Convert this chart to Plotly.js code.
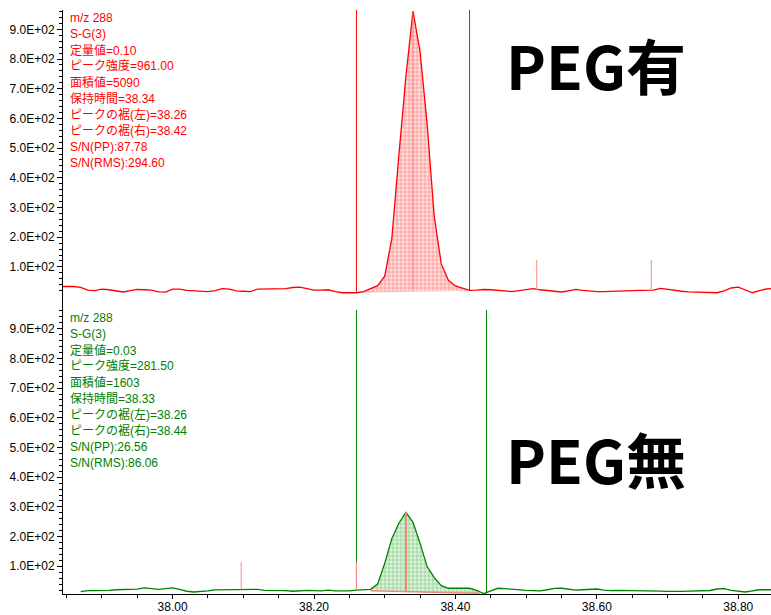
<!DOCTYPE html>
<html><head><meta charset="utf-8">
<script src="https://cdn.plot.ly/plotly-3.0.1.min.js"></script>
<style>html,body{margin:0;padding:0;background:#fff}#chart{width:771px;height:615px}</style>
</head><body><div id="chart"></div>
<script>
// ---- data ----
const rtTop = [37.84,37.85,37.86,37.87,37.88,37.89,37.90,37.91,37.92,37.93,37.94,37.95,37.96,37.97,37.98,37.99,
  38.00,38.01,38.02,38.03,38.04,38.05,38.06,38.07,38.08,38.09,38.10,38.11,38.12,38.13,38.14,38.15,38.16,38.17,38.18,38.19,
  38.20,38.21,38.22,38.23,38.24,38.25,38.26,38.27,38.28,38.29,38.30,38.31,38.32,38.33,38.34,38.35,38.36,38.37,38.38,38.39,
  38.40,38.41,38.42,38.43,38.44,38.45,38.46,38.47,38.48,38.49,38.50,38.51,38.52,38.53,38.54,38.55,38.56,38.57,38.58,38.59,
  38.60,38.61,38.62,38.63,38.64,38.65,38.66,38.67,38.68,38.69,38.70,38.71,38.72,38.73,38.74,38.75,38.76,38.77,38.78,38.79,
  38.80,38.81,38.82,38.83,38.84,38.85];
const intTop = [34,34,34,31,22,20,25,23,19,15.5,20.5,24,23,22,16,15,
  25,25,21,20,17,16.5,20,27,25,19.5,18,17,25,25.6,24.6,24.6,27,30.6,32,27,
  22,22,23,16.5,13,13,13,16.5,25.6,37,69,194,475,742,961,824,580,270,110,55,
  36,28,21,22,24,23,20.5,18,17,20.5,24.6,27,23,20,18,15.5,19.5,24,21,18,
  16.5,16.5,16.5,16.5,19,20,20,20,22,27.6,24,20.5,18,16,15,14,14,13,19,29,
  32,22,13,20.5,25.6,28];

const rtBot = [37.87,37.88,37.89,37.90,37.91,37.92,37.93,37.94,37.95,37.96,37.97,37.98,37.99,
  38.00,38.01,38.02,38.03,38.04,38.05,38.06,38.07,38.08,38.09,38.10,38.11,38.12,38.13,38.14,38.15,38.16,38.17,38.18,38.19,
  38.20,38.21,38.22,38.23,38.24,38.25,38.26,38.27,38.28,38.29,38.30,38.31,38.32,38.33,38.34,38.35,38.36,38.37,38.38,38.39,
  38.40,38.41,38.42,38.43,38.44,38.45,38.46,38.47,38.48,38.49,38.50,38.51,38.52,38.53,38.54,38.55,38.56,38.57,38.58,38.59,
  38.60,38.61,38.62,38.63,38.64,38.65,38.66,38.67,38.68,38.69,38.70,38.71,38.72,38.73,38.74,38.75,38.76,38.77,38.78,38.79,
  38.80,38.81,38.82,38.83,38.84,38.85];
const intBot = [14.5,18,18,18,19,21,21,21,23,27,25,22,25,
  27,22,16,13.5,14,17,20.5,21,21,22,23,24,22.5,19,18.5,20,18,16,18,19,
  18,17,20,17,17,17,20,21.5,22.5,40,110,193,245,281.5,248,177,99,62,35,26,
  26,26,26,19,8,17,26,24.5,22,20.5,19,18,17,21,25.6,26,22,19.5,21,22,
  23.5,20,18,19,19,19,19,18.5,17.5,16.5,15.5,14.5,15.5,16.5,17,17,18.5,23.5,25,19,
  15,13.5,17.5,21,21,21];

// peak integration (start, end) and baseline values at those ends
const topPeakRange = [38.26, 38.42];
const topBaseline = [13, 20];
const botPeakRange = [38.28, 38.434];
const botBaseline = [18, 9];
// peak boundary markers (retention time, level where the line meets the trace)
const topBoundRT = [38.26, 38.42];
const topBoundBase = [13, 20];
const botBoundRT = [38.26, 38.444];
const botBoundBase = [20, 7];
// small pink markers
const topMarkRT = [38.515, 38.677];
const topMarkBase = [22, 21];
const topMarkTop = 123;
const botMarkRT = [38.097, 38.26];
const botMarkBase = [22, 20];
const botMarkTop = 114;
// apex lines
const topApex = {rt: 38.34, base: 22, top: 961};
const botApex = {rt: 38.33, base: 13, top: 281.5};

const yTickVals = [100,200,300,400,500,600,700,800,900];
const yTickText = ['1.0E+02','2.0E+02','3.0E+02','4.0E+02','5.0E+02','6.0E+02','7.0E+02','8.0E+02','9.0E+02'];
const xTickVals = [38.0,38.2,38.4,38.6,38.8];
const xTickText = ['38.00','38.20','38.40','38.60','38.80'];

const infoTop = ['m/z 288','S-G(3)','定量値=0.10','ピーク強度=961.00','面積値=5090','保持時間=38.34','ピークの裾(左)=38.26','ピークの裾(右)=38.42','S/N(PP):87.78','S/N(RMS):294.60'];
const infoBot = ['m/z 288','S-G(3)','定量値=0.03','ピーク強度=281.50','面積値=1603','保持時間=38.33','ピークの裾(左)=38.26','ピークの裾(右)=38.44','S/N(PP):26.56','S/N(RMS):86.06'];
const labelTop = 'PEG有';
const labelBot = 'PEG無';

// ---- build ----
const RED = '#ff0000', GREEN = '#008000', PINK = '#ff8c8c';
const xr = [37.845, 38.8463];
const topYR = [-45.1, 965];
const botYR = [6.7, 962.9];

function peakPoly(rt, ys, range, base) {
  const px = [], py = [];
  rt.forEach((t, i) => { if (t >= range[0] - 1e-9 && t <= range[1] + 1e-9) { px.push(t); py.push(ys[i]); } });
  px.push(range[1], range[0]); py.push(base[1], base[0]);
  return {x: px, y: py};
}
const pt = peakPoly(rtTop, intTop, topPeakRange, topBaseline);
const pb = peakPoly(rtBot, intBot, botPeakRange, botBaseline);

const traces = [
  {x: pt.x, y: pt.y, xaxis: 'x', yaxis: 'y', mode: 'lines', fill: 'toself', line: {width: 0},
   fillcolor: 'rgba(255,150,150,0.5)',
   fillpattern: {shape: '+', size: 4, solidity: 0.3, fgcolor: 'rgba(255,80,80,0.6)', bgcolor: 'rgba(255,210,210,0.8)'},
   hoverinfo: 'skip'},
  {x: rtTop, y: intTop, xaxis: 'x', yaxis: 'y', mode: 'lines', line: {color: RED, width: 1.3}},
  {x: pb.x, y: pb.y, xaxis: 'x2', yaxis: 'y2', mode: 'lines', fill: 'toself', line: {width: 0},
   fillcolor: 'rgba(170,220,170,0.45)',
   fillpattern: {shape: '+', size: 4, solidity: 0.3, fgcolor: 'rgba(60,170,60,0.55)', bgcolor: 'rgba(210,238,210,0.8)'},
   hoverinfo: 'skip'},
  {x: rtBot, y: intBot, xaxis: 'x2', yaxis: 'y2', mode: 'lines', line: {color: GREEN, width: 1.3}}
];

const shapes = [];
topBoundRT.forEach((t, i) => shapes.push({type: 'line', xref: 'x', yref: 'y', x0: t, x1: t, y0: topBoundBase[i], y1: topYR[1], line: {color: RED, width: 1}}));
botBoundRT.forEach((t, i) => shapes.push({type: 'line', xref: 'x2', yref: 'y2', x0: t, x1: t, y0: botBoundBase[i], y1: botYR[1], line: {color: GREEN, width: 1}}));
topMarkRT.forEach((t, i) => shapes.push({type: 'line', xref: 'x', yref: 'y', x0: t, x1: t, y0: topMarkBase[i], y1: topMarkTop, line: {color: PINK, width: 1}}));
botMarkRT.forEach((t, i) => shapes.push({type: 'line', xref: 'x2', yref: 'y2', x0: t, x1: t, y0: botMarkBase[i], y1: botMarkTop, line: {color: PINK, width: 1}}));
shapes.push({type: 'line', xref: 'x', yref: 'y', x0: topApex.rt, x1: topApex.rt, y0: topApex.base, y1: topApex.top, line: {color: 'rgba(255,120,120,0.35)', width: 2.5}});
shapes.push({type: 'line', xref: 'x2', yref: 'y2', x0: botApex.rt, x1: botApex.rt, y0: botApex.base, y1: botApex.top, line: {color: '#f08878', width: 2}});
shapes.push({type: 'line', xref: 'x2', yref: 'y2', x0: botPeakRange[0], x1: botPeakRange[1], y0: botBaseline[0], y1: botBaseline[1], line: {color: '#f08878', width: 1.5}});

// annotations (plot area: y pixel 0..594)
const H = 594;
const ann = [];
const infoFont = {family: 'Liberation Sans, Arial, Noto Sans CJK JP', size: 12};
infoTop.forEach((s, i) => ann.push({text: s, xref: 'paper', yref: 'paper', x: 5 / 708, y: (H - (18.3 + 16.05 * i)) / H,
  xanchor: 'left', yanchor: 'middle', showarrow: false, font: Object.assign({color: RED}, infoFont)}));
infoBot.forEach((s, i) => ann.push({text: s, xref: 'paper', yref: 'paper', x: 5 / 708, y: (H - (318.3 + 16.05 * i)) / H,
  xanchor: 'left', yanchor: 'middle', showarrow: false, font: Object.assign({color: GREEN}, infoFont)}));
ann.push({text: '<b>' + labelTop + '</b>', xref: 'paper', yref: 'paper', x: (596 - 63) / 708, y: (H - 64) / H,
  xanchor: 'center', yanchor: 'middle', showarrow: false, font: {family: 'Noto Sans CJK JP', size: 60, color: '#000'}});
ann.push({text: '<b>' + labelBot + '</b>', xref: 'paper', yref: 'paper', x: (596 - 63) / 708, y: (H - 458) / H,
  xanchor: 'center', yanchor: 'middle', showarrow: false, font: {family: 'Noto Sans CJK JP', size: 60, color: '#000'}});

const minorY = [];
for (let v = 20; v <= 960; v += 20) if (v % 100 !== 0) minorY.push(v);

const tickFont = {family: 'Liberation Sans, Arial', size: 12, color: '#000'};
const yCommon = {
  tickmode: 'array', tickvals: yTickVals, ticktext: yTickText, ticks: 'outside', ticklen: 5, tickcolor: '#000', tickwidth: 1,
  showline: true, linecolor: '#000', linewidth: 1, showgrid: false, zeroline: false, tickfont: tickFont,
  minor: {tickmode: 'array', tickvals: minorY, ticks: 'outside', ticklen: 3, tickcolor: '#000', showgrid: false}
};

const layout = {
  width: 771, height: 615,
  margin: {l: 63, r: 0, t: 0, b: 21},
  paper_bgcolor: '#fff', plot_bgcolor: '#fff',
  showlegend: false,
  xaxis: {domain: [0, 1], range: xr, anchor: 'y', visible: false},
  xaxis2: {domain: [0, 1], range: xr, anchor: 'y2', tickmode: 'array', tickvals: xTickVals, ticktext: xTickText,
    ticks: 'outside', ticklen: 4, tickcolor: '#000', showline: true, linecolor: '#000', linewidth: 1,
    ticklabelstandoff: -2,
    showgrid: false, zeroline: false, tickfont: tickFont,
    minor: {tickmode: 'linear', tick0: 38, dtick: 0.05, ticks: 'outside', ticklen: 3, tickcolor: '#000', showgrid: false}},
  yaxis: Object.assign({domain: [(H - 310) / H, (H - 10) / H], range: topYR}, yCommon),
  yaxis2: Object.assign({domain: [0, (H - 310) / H], range: botYR}, yCommon),
  shapes: shapes,
  annotations: ann
};

Plotly.newPlot('chart', traces, layout, {displayModeBar: false, staticPlot: true});
</script>
</body></html>
